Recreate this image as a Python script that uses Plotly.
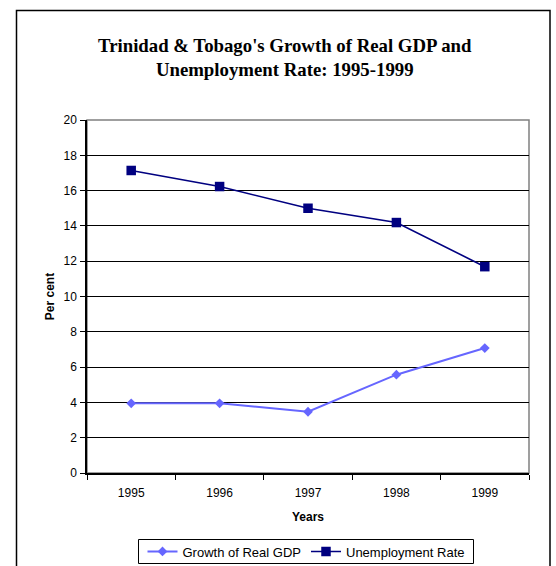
import plotly.graph_objects as go

years = ["1995", "1996", "1997", "1998", "1999"]
gdp_growth = [3.95, 3.95, 3.47, 5.57, 7.08]
unemployment = [17.14, 16.23, 15.0, 14.19, 11.69]
y_ticks = [0, 2, 4, 6, 8, 10, 12, 14, 16, 18, 20]

W, H = 556, 566
L, R, T, B = 87, 529, 120, 473

fig = go.Figure()
fig.add_trace(go.Scatter(
    x=years, y=gdp_growth, name="Growth of Real GDP", mode="lines+markers",
    line=dict(color="#6666FF", width=2),
    marker=dict(symbol="diamond", size=7.5, color="#6666FF"),
))
fig.add_trace(go.Scatter(
    x=years, y=unemployment, name="Unemployment Rate", mode="lines+markers",
    line=dict(color="#000080", width=1.6),
    marker=dict(symbol="square", size=9.5, color="#000080"),
))

def px_x(p):
    return (p - L) / (R - L)

def px_y(p):
    return (B - p) / (B - T)

# outer chart frame
fig.add_shape(type="rect", xref="paper", yref="paper",
              x0=px_x(16.5), x1=px_x(550), y0=px_y(580), y1=px_y(10.5),
              line=dict(color="black", width=1.5), layer="below")
# plot area border (gray)
fig.add_shape(type="rect", xref="paper", yref="paper",
              x0=0, x1=1, y0=0, y1=1,
              line=dict(color="#808080", width=1.5), layer="below")
# legend box
fig.add_shape(type="rect", xref="paper", yref="paper",
              x0=px_x(138.5), x1=px_x(473.5), y0=px_y(563.5), y1=px_y(539.5),
              line=dict(color="black", width=1), fillcolor="white", layer="below")

fig.add_annotation(
    text="<b>Trinidad & Tobago's Growth of Real GDP and<br>Unemployment Rate: 1995-1999</b>",
    xref="paper", yref="paper", x=px_x(284.5), y=px_y(57), xanchor="center", yanchor="middle",
    showarrow=False, align="center",
    font=dict(family="Liberation Serif", size=18.8, color="black"),
)

fig.update_layout(
    width=W, height=H,
    margin=dict(l=L, r=W - R, t=T, b=H - B, pad=0, autoexpand=False),
    paper_bgcolor="white", plot_bgcolor="white",
    font=dict(family="Liberation Sans, Arial", size=12, color="black"),
    showlegend=True,
    legend=dict(orientation="h", x=px_x(306), xanchor="center", y=px_y(536.5), yanchor="top",
                borderwidth=0, bgcolor="rgba(0,0,0,0)",
                font=dict(size=13), itemwidth=30, tracegroupgap=0),
    xaxis=dict(
        type="category", range=[-0.5, 4.5], tickson="boundaries",
        ticks="outside", ticklen=5, tickcolor="black", tickwidth=1,
        showline=True, linecolor="black", linewidth=1.5, showgrid=False,
        tickfont=dict(size=12), ticklabelstandoff=8,
        title=dict(text="<b>Years</b>", font=dict(size=12), standoff=13),
        fixedrange=True,
    ),
    yaxis=dict(
        range=[0, 20], tickvals=y_ticks,
        ticks="outside", ticklen=5, tickcolor="black", tickwidth=1,
        showline=True, linecolor="black", linewidth=1.5,
        showgrid=True, gridcolor="black", gridwidth=1,
        zeroline=False, tickfont=dict(size=12), ticklabelstandoff=1,
        title=dict(text="<b>Per cent</b>", font=dict(size=12), standoff=6),
        fixedrange=True,
    ),
)

fig.write_html("out.html", config={"displayModeBar": False},
               post_script="document.body.style.margin='0';")
